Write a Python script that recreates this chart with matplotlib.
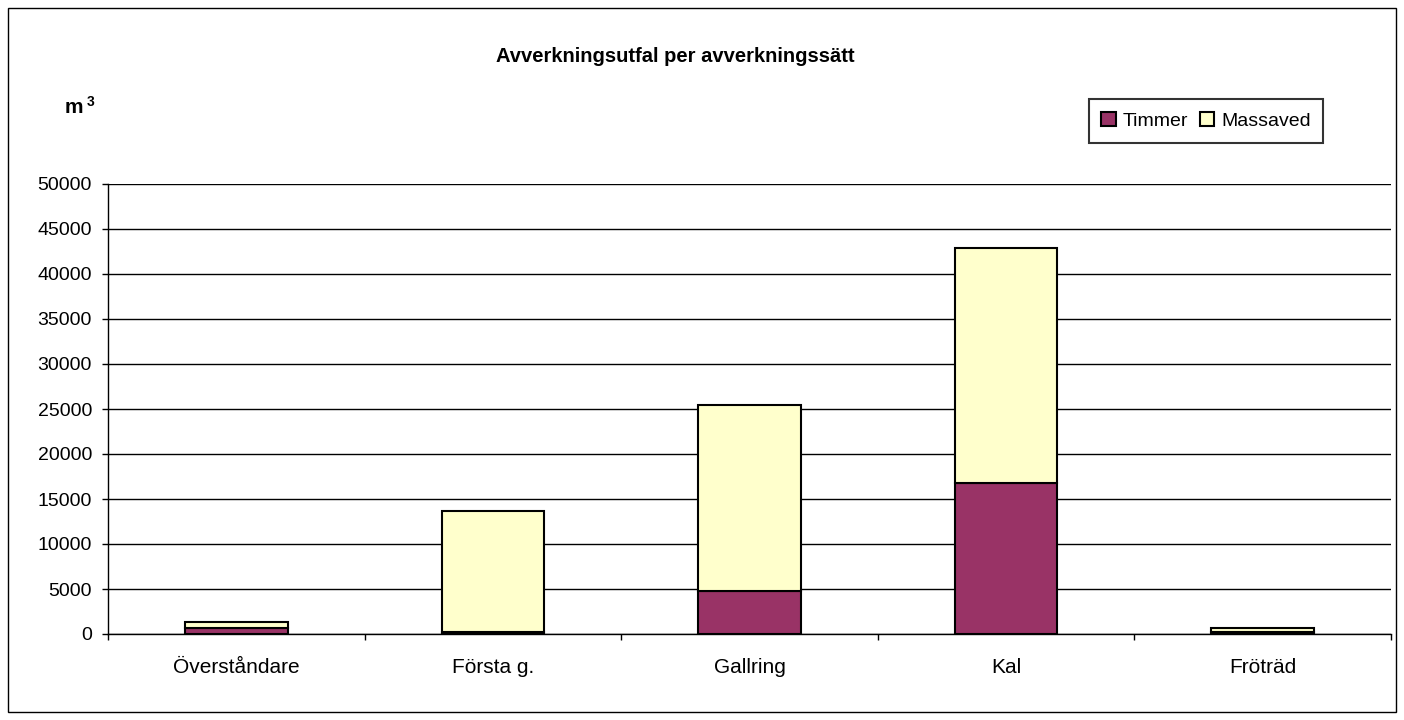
import numpy as np
import matplotlib.pyplot as plt
from matplotlib.patches import Rectangle

plt.rcParams['font.family'] = ['Liberation Sans', 'DejaVu Sans']

categories = ['Överståndare', 'Första g.', 'Gallring', 'Kal', 'Fröträd']
timmer = [650, 250, 4800, 16800, 200]
massaved = [650, 13450, 20600, 26100, 450]
yticks = [0, 5000, 10000, 15000, 20000, 25000, 30000, 35000, 40000, 45000, 50000]

W, H = 1404, 720
fig = plt.figure(figsize=(W / 100, H / 100), dpi=100)
fig.patches.append(Rectangle((8 / W, 8 / H), 1388 / W, 704 / H, transform=fig.transFigure,
                             fill=False, edgecolor='black', linewidth=1))
ax = fig.add_axes([108 / W, 86 / H, 1283 / W, 450 / H])

x = np.arange(len(categories))
ax.bar(x, timmer, width=0.4, color='#993366', edgecolor='black', linewidth=1.5, label='Timmer', zorder=3)
ax.bar(x, massaved, width=0.4, bottom=timmer, color='#FFFFCC', edgecolor='black', linewidth=1.5,
       label='Massaved', zorder=3)

ax.set_xlim(-0.5, len(categories) - 0.5)
ax.set_ylim(0, 50000)
ax.set_yticks(yticks)
ax.set_yticklabels([str(v) for v in yticks], fontsize=14)
ax.yaxis.grid(True, color='black', linewidth=1)
ax.set_axisbelow(True)

ax.set_xticks(x)
ax.set_xticklabels(categories, fontsize=15)
ax.tick_params(axis='x', length=0, pad=17)
ax.set_xticks(np.arange(-0.5, len(categories)), minor=True)
ax.tick_params(axis='x', which='minor', length=4.5, width=1, direction='out')
ax.tick_params(axis='y', length=4.5, width=1, direction='out', pad=7)

for s in ['top', 'right']:
    ax.spines[s].set_visible(False)
ax.spines['left'].set_linewidth(1)
ax.spines['bottom'].set_linewidth(1)

fig.text(675 / W, 1 - 56 / H, 'Avverkningsutfal per avverkningssätt', ha='center', va='center',
         fontsize=14.5, fontweight='bold')
# m with superscript 3
fig.text(65 / W, 1 - 113 / H, 'm', ha='left', va='baseline', fontsize=15, fontweight='bold')
fig.text(87 / W, 1 - 106 / H, '3', ha='left', va='baseline', fontsize=10, fontweight='bold')

leg = fig.legend(loc='center', bbox_to_anchor=(1206 / W, 1 - 121 / H), ncol=2, fontsize=14,
                 frameon=True, fancybox=False, edgecolor='black', handlelength=0.75, handleheight=0.75,
                 handletextpad=0.35, columnspacing=0.6, borderpad=0.65, borderaxespad=0)
leg.get_frame().set_linewidth(1.5)

fig.savefig('out.png', dpi=100)
